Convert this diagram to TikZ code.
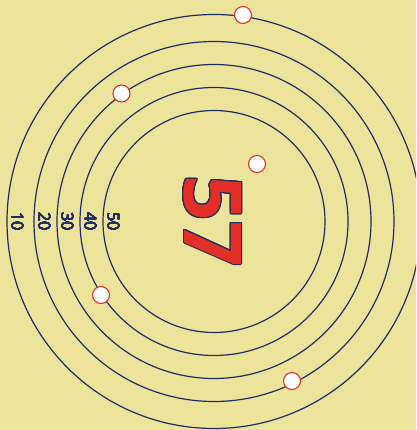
\documentclass[tikz,border=0pt]{standalone}
\usepackage{fontspec}
\setmainfont{Open Sans}
\usepackage{contour}
\definecolor{sand}{RGB}{237,228,155}
\definecolor{navy}{RGB}{30,45,100}
\definecolor{tomato}{RGB}{226,48,40}

\begin{document}
\begin{tikzpicture}[x=1pt, y=-1pt,
    ring/.style={draw=navy, line width=1.2pt},
    dot/.style={draw=tomato, fill=white, circle, line width=1.1pt, minimum size=17pt, inner sep=0pt},
    lbl/.style={text=navy, rotate=-90, font=\fontsize{16}{16}\selectfont, inner sep=0pt}]
    \fill[sand] (0,0) rectangle (416,430);
    \useasboundingbox (0,0) rectangle (416,430);
    \clip (0,0) rectangle (416,430);
    \coordinate (c) at (214,221.5);
    \foreach \r/\t in {207/10, 180/20, 157/30, 134/40, 111/50} {
        \draw[ring] (c) circle[radius=\r];
        \node[lbl] (l\t) at (214-\r+10.5,221.5) {\contourlength{0.15pt}\contour{navy}{\t}};
    }
    \node[rotate=-90, inner sep=0pt, font=\fontsize{80}{80}\selectfont\bfseries] (num) at (212,221) {\contourlength{1pt}\contour{navy}{\textcolor{tomato}{57}}};
    \node[dot] (d1) at (243,15) {}; \node[dot] (d2) at (121.5,93.5) {}; \node[dot] (d3) at (257,164) {};
    \node[dot] (d4) at (101,295) {}; \node[dot] (d5) at (292,381) {};
\end{tikzpicture}
\end{document}
